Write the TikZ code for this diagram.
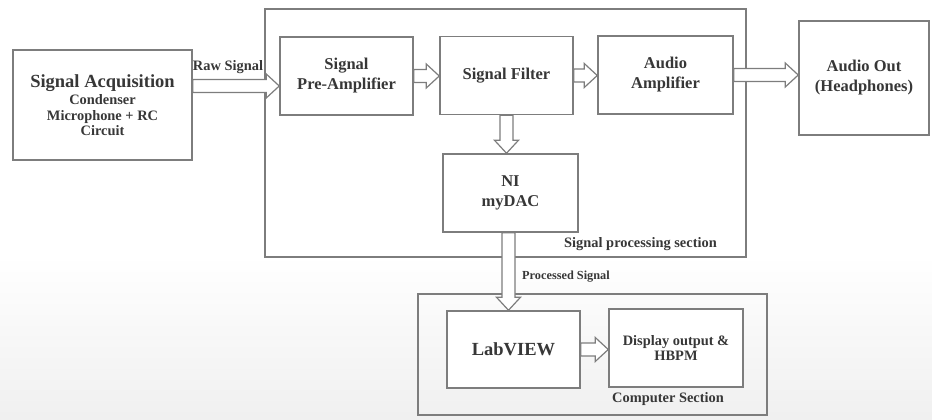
\documentclass[tikz,border=0pt]{standalone}
\usepackage{fontspec}
\setmainfont{Liberation Serif}
\usetikzlibrary{calc}
\definecolor{linegray}{RGB}{125,125,125}
\definecolor{textgray}{RGB}{55,55,55}
\newcommand{\bigfs}{\fontsize{18.5}{22}\selectfont\bfseries}
\newcommand{\mainfs}{\fontsize{16.5}{20}\selectfont\bfseries}
\newcommand{\smallfs}{\fontsize{14.4}{15.5}\selectfont\bfseries}
\newcommand{\tinyfs}{\fontsize{12.3}{14}\selectfont\bfseries}

\begin{document}
\begin{tikzpicture}[x=1pt,y=-1pt,
            frame/.style={rectangle,draw=linegray,line width=1.5pt},
            box/.style={rectangle,draw=linegray,fill=white,line width=1.5pt,
                        minimum width=133pt,minimum height=78pt,
                        align=center,text=textgray,font=\mainfs},
            lbl/.style={text=textgray,font=\smallfs,inner sep=0pt},
            arr/.style={draw=linegray,fill=white,line width=1.2pt,
              to path={($(\tikztostart)!6.5pt!90:(\tikztotarget)$)
                -- ($(\tikztotarget)!13pt!(\tikztostart)!6.5pt!90:(\tikztotarget)$)
                -- ($(\tikztotarget)!13pt!(\tikztostart)!12pt!90:(\tikztotarget)$)
                -- (\tikztotarget)
                -- ($(\tikztotarget)!13pt!(\tikztostart)!12pt!-90:(\tikztotarget)$)
                -- ($(\tikztotarget)!13pt!(\tikztostart)!6.5pt!-90:(\tikztotarget)$)
                -- ($(\tikztostart)!6.5pt!-90:(\tikztotarget)$) -- cycle}}]
            \useasboundingbox (0,0) rectangle (932,420);
            \shade[top color=white,bottom color=black!6] (0,255) rectangle (932,420);
            % sections
            \node[frame,minimum width=481pt,minimum height=248pt] (sps) at (505.5,133) {};
            \node[frame,minimum width=349pt,minimum height=121pt] (comp) at (592.5,354.5) {};
            % blocks
            \node[box,font=\smallfs,minimum width=179pt,minimum height=110pt]
                       (acq) at (102.5,105) {{\bigfs Signal Acquisition}\\[2pt]
                                             Condenser\\Microphone + RC\\Circuit};
            \node[box] (pre) at (346.5,76) {Signal\\Pre-Amplifier};
            \node[box] (filt) at (506.5,75.5) {Signal Filter};
            \node[box,minimum width=135pt] (amp) at (665.5,75) {Audio\\Amplifier};
            \node[box,minimum width=130pt,minimum height=114pt]
                       (out) at (864,78) {Audio Out\\(Headphones)};
            \node[box,minimum width=135pt] (dac) at (510.5,193) {NI\\myDAC};
            \node[box,font=\bigfs,minimum height=77pt] (lab) at (513.5,349.5) {LabVIEW};
            \node[box,font=\smallfs,minimum width=134pt]
                       (disp) at (676,348) {Display output \&\\HBPM};
            % connectors
            \draw[arr] ([yshift=19pt]acq.east) to ([yshift=-10pt]pre.west);
            \draw[arr] (pre.east) to (pre.east -| filt.west);
            \draw[arr] (filt.east) to (filt.east -| amp.west);
            \draw[arr] (amp.east) to (amp.east -| out.west);
            \draw[arr] (filt.south) to (filt.south |- dac.north);
            \draw[arr] ([xshift=-2pt]dac.south) to ([xshift=-2pt]dac.south |- lab.north);
            \draw[arr] (lab.east) to (lab.east -| disp.west);
            % labels
            \node[lbl] (rawlbl) at (228,67) {Raw Signal};
            \node[lbl] (spslbl) at (640.5,244) {Signal processing section};
            \node[lbl,font=\tinyfs] (proclbl) at (566,277) {Processed Signal};
            \node[lbl] (complbl) at (668,399) {Computer Section};
        \end{tikzpicture}
\end{document}
